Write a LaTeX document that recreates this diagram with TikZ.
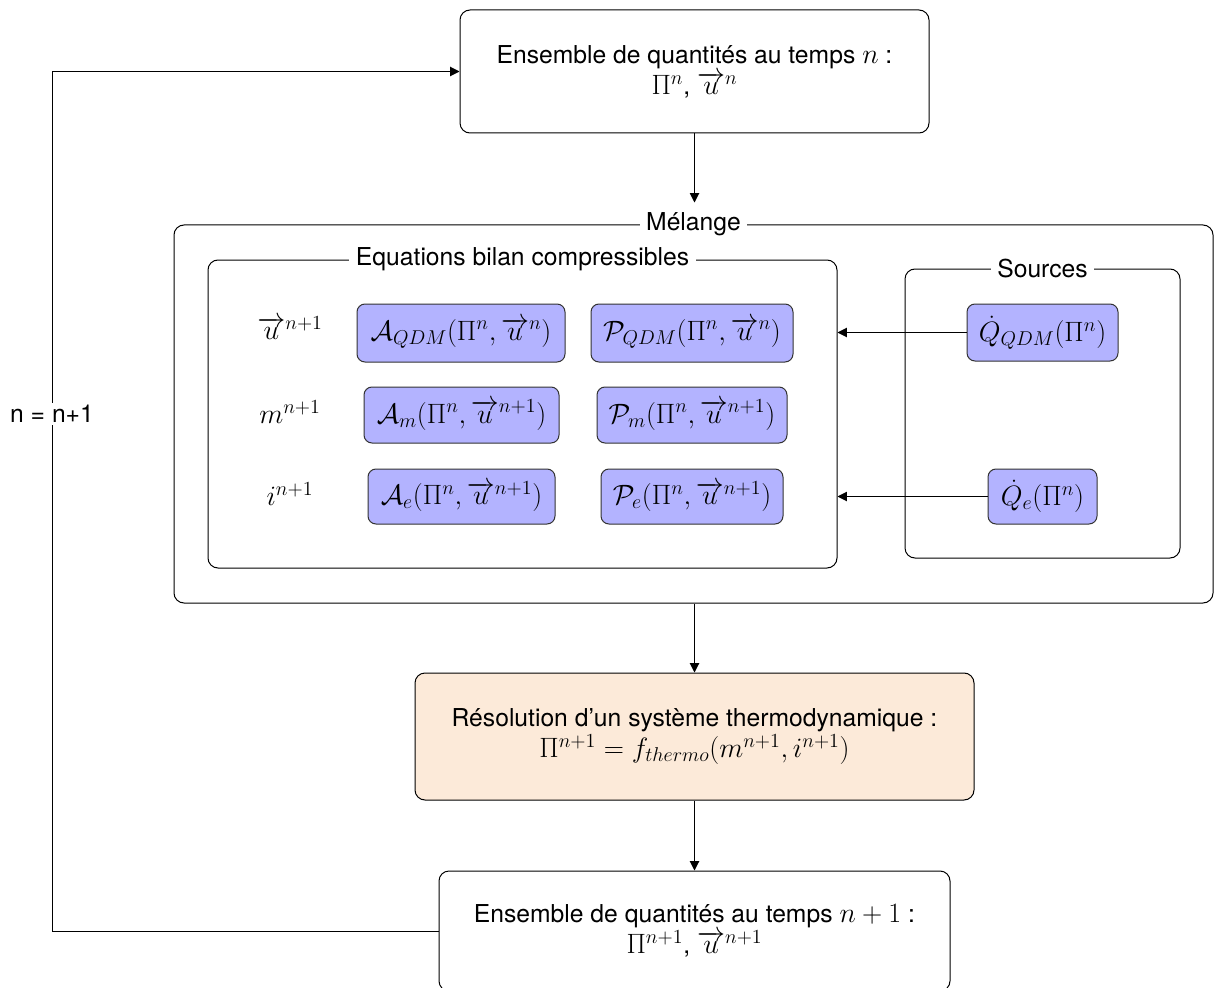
\documentclass[tikz,border=0pt]{standalone}
\usepackage{fix-cm}
\usepackage[no-math]{fontspec}
\setmainfont{TeX Gyre Heros}
\usepackage{amsmath,amssymb}
\DeclareMathSizes{18.5}{21}{15}{12}
\usetikzlibrary{positioning, arrows.meta}
\definecolor{bleuterme}{RGB}{179,179,255}
\definecolor{orangethermo}{RGB}{252,234,217}
\tikzset{
  >={Triangle[length=7pt,width=7pt]}, % pointes pleines
  x=0.75pt, y=-0.75pt, % une unite = un pixel, y vers le bas
  every node/.style={font=\fontsize{18.5}{23.5}\selectfont},
  etape/.style={draw, rounded corners=7.5pt, align=center}, % grandes boites
  terme/.style={draw=black!80, fill=bleuterme, rounded corners=6pt, inner sep=3pt}, % termes bleus
  cadre/.style={draw, rounded corners=7.5pt}, % conteneurs
  titre/.style={fill=white, inner sep=5pt}, % titres des conteneurs
}

\begin{document}
\begin{tikzpicture}[line width=0.75pt]
  \useasboundingbox (0,0) rectangle (1214,988);
  \clip (0,0) rectangle (1214,988);

  % etapes du schema
  \node[etape, minimum width=351.75pt, minimum height=92.25pt] (debut) at (694.5,71.5)
    {Ensemble de quantités au temps $n$ :\\ $\Pi^n$, $\overrightarrow{u}^{n}$};
  \node[etape, fill=orangethermo, minimum width=419.25pt, minimum height=95.25pt] (thermo) at (694.5,736.5)
    {Résolution d’un système thermodynamique :\\ $\Pi^{n+1} = f_{thermo}(m^{n+1}, i^{n+1})$};
  \node[etape, minimum width=383.25pt, minimum height=90pt] (fin) at (694.5,931)
    {Ensemble de quantités au temps $n+1$ :\\ $\Pi^{n+1}$, $\overrightarrow{u}^{n+1}$};

  % conteneurs
  \node[cadre, minimum width=779.25pt, minimum height=283.5pt] (melange) at (693.5,414) {};
  \node[titre] (tmelange) at (melange.north) {Mélange};
  \node[cadre, minimum width=471.75pt, minimum height=231pt] (bilan) at (522.5,414) {};
  \node[titre] (tbilan) at (bilan.north) {Equations bilan compressibles};
  \node[cadre, minimum width=206.25pt, minimum height=216.75pt] (sources) at (1042.5,413.5) {};
  \node[titre] (tsources) at (sources.north) {Sources};

  % inconnues
  \node (u) at (290,328) {$\overrightarrow{u}^{n+1}$};
  \node (m) at (290,412) {$m^{n+1}$};
  \node (i) at (290,494) {$i^{n+1}$};

  % termes d'advection et de pression
  \node[terme, minimum width=156pt, minimum height=43.5pt] (AQDM) at (461,333)
    {$\mathcal{A}_{QDM}(\Pi^n, \overrightarrow{u}^{n})$};
  \node[terme, minimum width=151.5pt, minimum height=43.5pt] (PQDM) at (692,333)
    {$\mathcal{P}_{QDM}(\Pi^n, \overrightarrow{u}^{n})$};
  \node[terme, minimum width=146.25pt, minimum height=42pt] (Am) at (461.5,415)
    {$\mathcal{A}_{m}(\Pi^n, \overrightarrow{u}^{n+1})$};
  \node[terme, minimum width=142.5pt, minimum height=42pt] (Pm) at (692,415)
    {$\mathcal{P}_{m}(\Pi^n, \overrightarrow{u}^{n+1})$};
  \node[terme, minimum width=140.25pt, minimum height=41.25pt] (Ae) at (461.5,496.5)
    {$\mathcal{A}_{e}(\Pi^n, \overrightarrow{u}^{n+1})$};
  \node[terme, minimum width=136.5pt, minimum height=41.25pt] (Pe) at (692,496.5)
    {$\mathcal{P}_{e}(\Pi^n, \overrightarrow{u}^{n+1})$};

  % termes sources
  \node[terme, minimum width=113.25pt, minimum height=42.75pt] (QQDM) at (1042.5,332.5)
    {$\dot{Q}_{QDM}(\Pi^n)$};
  \node[terme, minimum width=81.75pt, minimum height=41.25pt] (Qe) at (1042.5,496.5)
    {$\dot{Q}_{e}(\Pi^n)$};

  % liaisons
  \draw[->] (QQDM) -- (QQDM -| bilan.east);
  \draw[->] (Qe) -- (Qe -| bilan.east);
  \draw[->, shorten >=16.5pt] (debut.south) -- (debut.south |- melange.north);
  \draw[->] (melange.south -| thermo.north) -- (thermo.north);
  \draw[->] (thermo) -- (fin);

  % boucle en temps
  \coordinate (coin) at (52,931);
  \draw[->] (fin.west) -- (coin) |- (debut.west);
  \node[fill=white, inner sep=2pt] (incr) at (52,414) {n = n+1};
\end{tikzpicture}
\end{document}
